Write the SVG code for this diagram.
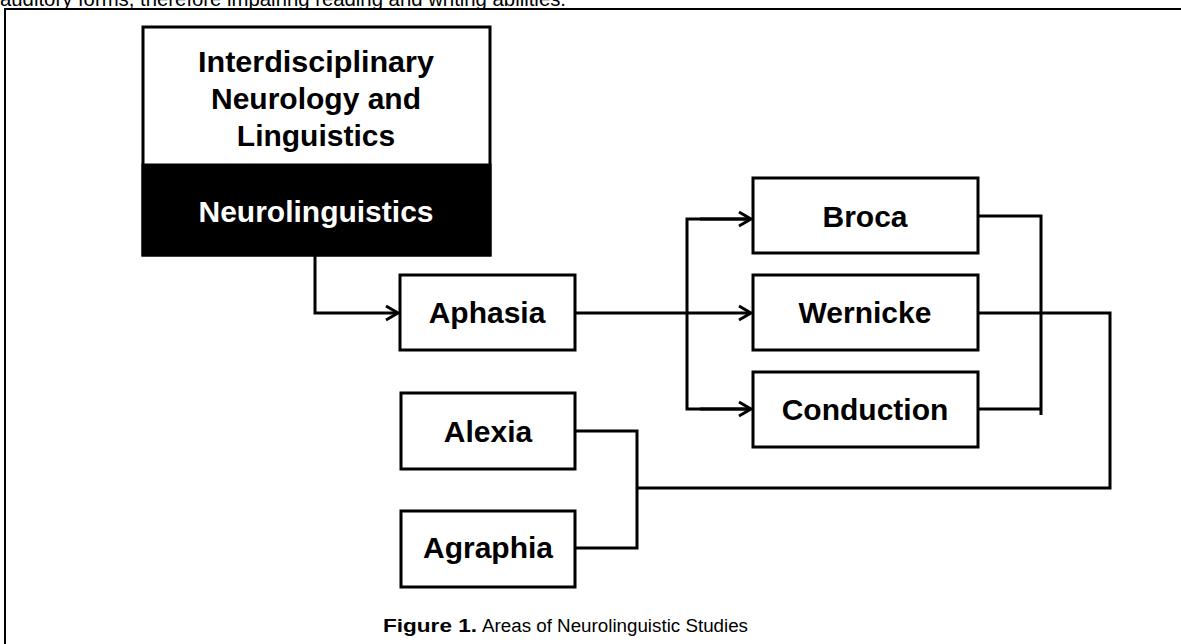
<svg xmlns="http://www.w3.org/2000/svg" width="1181" height="644" viewBox="0 0 1181 644">
<style>
.box{fill:#fff;stroke:#000;stroke-width:3}
.lbl{font-family:"Liberation Sans",Arial,sans-serif;font-weight:bold;font-size:30px;fill:#000;text-anchor:middle}
.wire{fill:none;stroke:#000;stroke-width:3;stroke-linejoin:miter}
.cap{font-family:"Liberation Sans",Arial,sans-serif;font-size:18px;fill:#000}
</style>
<defs>
<marker id="arr" markerUnits="userSpaceOnUse" markerWidth="20" markerHeight="20" refX="14" refY="9" orient="auto">
<path d="M2,2 L14,9 L2,16" fill="none" stroke="#000" stroke-width="3"/>
</marker>
</defs>
<rect width="1181" height="644" fill="#fff"/>
<text x="0" y="6" class="cap" style="font-size:20px" textLength="566" lengthAdjust="spacingAndGlyphs">auditory forms, therefore impairing reading and writing abilities.</text>
<path d="M5,644 V9 H1181" fill="none" stroke="#000" stroke-width="2"/>
<g id="top">
<rect x="143" y="27" width="347" height="228" class="box"/>
<rect x="143" y="165" width="347" height="90" fill="#000" stroke="#000" stroke-width="3"/>
<text x="316" y="72" class="lbl" textLength="236" lengthAdjust="spacingAndGlyphs">Interdisciplinary</text>
<text x="316" y="109" class="lbl">Neurology and</text>
<text x="316" y="146" class="lbl">Linguistics</text>
<text x="316" y="222" class="lbl" style="fill:#fff">Neurolinguistics</text>
</g>
<g id="aphasia">
<rect x="400" y="275" width="175" height="75" class="box"/>
<text x="487" y="323" class="lbl">Aphasia</text>
</g>
<g id="broca">
<rect x="753" y="178" width="225" height="75" class="box"/>
<text x="865" y="227" class="lbl">Broca</text>
</g>
<g id="wernicke">
<rect x="753" y="275" width="225" height="75" class="box"/>
<text x="865" y="323" class="lbl">Wernicke</text>
</g>
<g id="conduction">
<rect x="753" y="372" width="225" height="75" class="box"/>
<text x="865" y="420" class="lbl">Conduction</text>
</g>
<g id="alexia">
<rect x="401" y="393" width="174" height="76" class="box"/>
<text x="488" y="442" class="lbl">Alexia</text>
</g>
<g id="agraphia">
<rect x="401" y="511" width="174" height="76" class="box"/>
<text x="488" y="558" class="lbl">Agraphia</text>
</g>
<g id="connectors">
<path class="wire" d="M315,255 V313 H398" marker-end="url(#arr)"/>
<path class="wire" d="M575,313 H751" marker-end="url(#arr)"/>
<path class="wire" d="M751,219 H687 V409 H751" />
<path class="wire" d="M700,219 H751" marker-end="url(#arr)"/>
<path class="wire" d="M700,409 H751" marker-end="url(#arr)"/>
<path class="wire" d="M978,216 H1041 V415"/>
<path class="wire" d="M978,409 H1041"/>
<path class="wire" d="M978,313 H1110 V488 H637"/>
<path class="wire" d="M575,431 H637 V548 H575"/>
</g>
<text x="383" y="632" class="cap" font-weight="bold" textLength="94" lengthAdjust="spacingAndGlyphs">Figure 1.</text>
<text x="482" y="632" class="cap" textLength="266" lengthAdjust="spacingAndGlyphs">Areas of Neurolinguistic Studies</text>
</svg>
